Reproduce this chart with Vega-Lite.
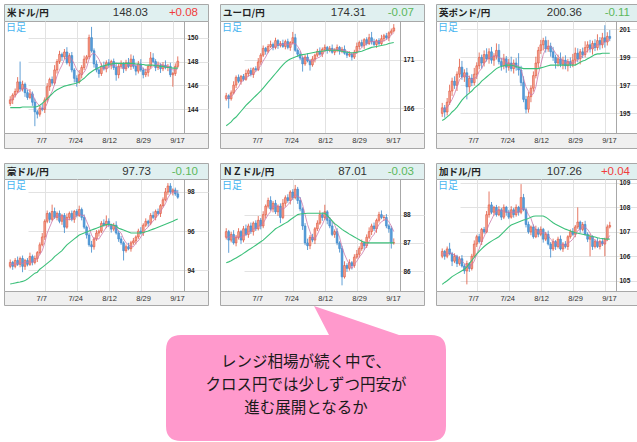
{
"$schema": "https://vega.github.io/schema/vega-lite/v6.json",
"padding": {"left": 3, "top": 3, "right": 0, "bottom": 0},
"background": "white",
"config": {
 "view": {"stroke": null},
 "axis": {"title": null, "labelFont": "Liberation Sans", "labelFontSize": 7, "labelColor": "#333333", "ticks": false, "domain": false, "gridColor": "#e2e2e2", "gridWidth": 1, "labelOverlap": false},
 "axisY": {"minExtent": 0, "labelPadding": 3, "labelFontWeight": "bold", "labelFontSize": 6.5, "labelColor": "#222222", "domainColor": "#a8a8a8", "domainWidth": 1, "labelOverlap": false, "labelFlush": false}
},
"datasets": {
"ticks": [{"i":14,"d":"7/7"},{"i":27,"d":"7/24"},{"i":40,"d":"8/12"},{"i":53,"d":"8/29"},{"i":66,"d":"9/17"}],
"usd": [
{"i":0,"o":144.5,"h":145.1,"l":144.3,"c":144.8,"m":144.15,"f":144.7},
{"i":1,"o":144.8,"h":145.35,"l":144.45,"c":145.2,"m":144.15,"f":144.9},
{"i":2,"o":145.2,"h":145.75,"l":145.0,"c":145.5,"m":144.15,"f":145.1},
{"i":3,"o":145.5,"h":146.7,"l":145.35,"c":146.3,"m":144.15,"f":145.4},
{"i":4,"o":146.3,"h":148.0,"l":145.5,"c":145.7,"m":144.15,"f":145.5},
{"i":5,"o":145.7,"h":146.4,"l":145.5,"c":146.1,"m":144.2,"f":145.76},
{"i":6,"o":146.1,"h":146.25,"l":145.05,"c":145.4,"m":144.2,"f":145.8},
{"i":7,"o":145.4,"h":145.65,"l":144.8,"c":145.0,"m":144.2,"f":145.7},
{"i":8,"o":145.0,"h":145.7,"l":144.85,"c":145.3,"m":144.2,"f":145.5},
{"i":9,"o":145.3,"h":145.5,"l":144.3,"c":144.6,"m":144.2,"f":145.3},
{"i":10,"o":144.6,"h":144.9,"l":142.6,"c":143.8,"m":144.2,"f":144.8},
{"i":11,"o":143.8,"h":143.95,"l":143.25,"c":143.6,"m":144.25,"f":144.5},
{"i":12,"o":143.6,"h":144.35,"l":143.4,"c":144.1,"m":144.35,"f":144.3},
{"i":13,"o":144.1,"h":144.5,"l":143.85,"c":144.0,"m":144.5,"f":144.0},
{"i":14,"o":144.0,"h":145.0,"l":143.7,"c":144.8,"m":144.7,"f":144.1},
{"i":15,"o":144.8,"h":146.2,"l":144.6,"c":145.9,"m":144.9,"f":144.5},
{"i":16,"o":145.9,"h":146.65,"l":145.55,"c":146.5,"m":145.1,"f":145.1},
{"i":17,"o":146.5,"h":146.75,"l":146.0,"c":146.2,"m":145.3,"f":145.5},
{"i":18,"o":146.2,"h":147.7,"l":146.05,"c":147.3,"m":145.5,"f":146.1},
{"i":19,"o":147.3,"h":148.2,"l":147.0,"c":148.0,"m":145.65,"f":146.8},
{"i":20,"o":148.0,"h":148.9,"l":147.8,"c":148.6,"m":145.75,"f":147.3},
{"i":21,"o":148.6,"h":148.75,"l":148.05,"c":148.4,"m":145.85,"f":147.7},
{"i":22,"o":148.4,"h":149.05,"l":148.2,"c":148.8,"m":145.95,"f":148.2},
{"i":23,"o":148.8,"h":149.2,"l":147.75,"c":147.9,"m":146.0,"f":148.3},
{"i":24,"o":147.9,"h":148.7,"l":147.6,"c":148.5,"m":146.05,"f":148.4},
{"i":25,"o":148.5,"h":148.8,"l":147.1,"c":147.3,"m":146.1,"f":148.2},
{"i":26,"o":147.3,"h":147.45,"l":146.25,"c":146.6,"m":146.15,"f":147.8},
{"i":27,"o":146.6,"h":146.85,"l":145.9,"c":146.3,"m":146.2,"f":147.3},
{"i":28,"o":146.3,"h":147.3,"l":146.15,"c":146.9,"m":146.3,"f":147.1},
{"i":29,"o":146.9,"h":147.7,"l":146.6,"c":147.5,"m":146.45,"f":146.9},
{"i":30,"o":147.5,"h":148.5,"l":147.3,"c":148.2,"m":146.6,"f":147.1},
{"i":31,"o":148.2,"h":148.55,"l":147.85,"c":148.4,"m":146.8,"f":147.5},
{"i":32,"o":148.4,"h":150.25,"l":148.2,"c":150.0,"m":147.0,"f":148.2},
{"i":33,"o":150.0,"h":150.9,"l":148.75,"c":148.9,"m":147.15,"f":148.6},
{"i":34,"o":148.9,"h":149.1,"l":147.5,"c":147.8,"m":147.3,"f":148.7},
{"i":35,"o":147.8,"h":148.1,"l":147.1,"c":147.3,"m":147.4,"f":148.5},
{"i":36,"o":147.3,"h":147.45,"l":146.65,"c":147.0,"m":147.5,"f":148.2},
{"i":37,"o":147.0,"h":147.85,"l":146.8,"c":147.6,"m":147.6,"f":147.7},
{"i":38,"o":147.6,"h":148.0,"l":147.25,"c":147.4,"m":147.65,"f":147.4},
{"i":39,"o":147.4,"h":148.1,"l":147.1,"c":147.9,"m":147.7,"f":147.4},
{"i":40,"o":147.9,"h":148.2,"l":147.5,"c":147.7,"m":147.75,"f":147.5},
{"i":41,"o":147.7,"h":148.15,"l":147.35,"c":148.0,"m":147.8,"f":147.7},
{"i":42,"o":148.0,"h":148.25,"l":147.3,"c":147.5,"m":147.85,"f":147.7},
{"i":43,"o":147.5,"h":147.9,"l":146.4,"c":146.9,"m":147.85,"f":147.6},
{"i":44,"o":146.9,"h":147.8,"l":146.6,"c":147.6,"m":147.85,"f":147.5},
{"i":45,"o":147.6,"h":148.1,"l":147.4,"c":147.8,"m":147.85,"f":147.6},
{"i":46,"o":147.8,"h":147.95,"l":147.05,"c":147.4,"m":147.85,"f":147.4},
{"i":47,"o":147.4,"h":148.15,"l":147.2,"c":147.9,"m":147.85,"f":147.5},
{"i":48,"o":147.9,"h":148.3,"l":147.45,"c":147.6,"m":147.85,"f":147.7},
{"i":49,"o":147.6,"h":148.6,"l":147.3,"c":148.2,"m":147.85,"f":147.8},
{"i":50,"o":148.2,"h":148.5,"l":147.4,"c":147.6,"m":147.85,"f":147.7},
{"i":51,"o":147.6,"h":147.75,"l":146.85,"c":147.2,"m":147.8,"f":147.7},
{"i":52,"o":147.2,"h":148.05,"l":147.0,"c":147.8,"m":147.8,"f":147.7},
{"i":53,"o":147.8,"h":148.2,"l":147.15,"c":147.3,"m":147.75,"f":147.6},
{"i":54,"o":147.3,"h":147.5,"l":146.6,"c":146.9,"m":147.75,"f":147.4},
{"i":55,"o":146.9,"h":147.4,"l":146.7,"c":147.1,"m":147.7,"f":147.3},
{"i":56,"o":147.1,"h":147.75,"l":146.75,"c":147.6,"m":147.7,"f":147.3},
{"i":57,"o":147.6,"h":148.8,"l":147.4,"c":148.3,"m":147.7,"f":147.4},
{"i":58,"o":148.3,"h":148.7,"l":147.85,"c":148.0,"m":147.7,"f":147.6},
{"i":59,"o":148.0,"h":148.2,"l":147.2,"c":147.5,"m":147.65,"f":147.7},
{"i":60,"o":147.5,"h":148.0,"l":147.3,"c":147.7,"m":147.65,"f":147.8},
{"i":61,"o":147.7,"h":147.85,"l":147.05,"c":147.4,"m":147.6,"f":147.8},
{"i":62,"o":147.4,"h":147.95,"l":147.2,"c":147.7,"m":147.6,"f":147.7},
{"i":63,"o":147.7,"h":148.1,"l":147.35,"c":147.5,"m":147.55,"f":147.6},
{"i":64,"o":147.5,"h":147.8,"l":147.2,"c":147.6,"m":147.5,"f":147.6},
{"i":65,"o":147.6,"h":147.9,"l":146.7,"c":146.9,"m":147.5,"f":147.4},
{"i":66,"o":146.9,"h":147.15,"l":145.9,"c":147.0,"m":147.45,"f":147.3},
{"i":67,"o":147.0,"h":147.85,"l":146.8,"c":147.6,"m":147.45,"f":147.3},
{"i":68,"o":147.6,"h":148.43,"l":147.45,"c":148.03,"m":147.45,"f":147.4}
],
"eur": [
{"i":0,"o":167.0,"h":167.6,"l":166.8,"c":167.3,"m":164.2,"f":167.0},
{"i":1,"o":167.3,"h":167.45,"l":166.0,"c":167.0,"m":164.4,"f":167.1},
{"i":2,"o":167.0,"h":167.85,"l":166.8,"c":167.6,"m":164.6,"f":167.2},
{"i":3,"o":167.6,"h":168.8,"l":167.45,"c":168.4,"m":164.9,"f":167.5},
{"i":4,"o":168.4,"h":169.4,"l":168.1,"c":169.2,"m":165.1,"f":167.9},
{"i":5,"o":169.2,"h":169.5,"l":168.6,"c":168.8,"m":165.4,"f":168.2},
{"i":6,"o":168.8,"h":169.45,"l":168.45,"c":169.3,"m":165.7,"f":168.7},
{"i":7,"o":169.3,"h":169.55,"l":168.8,"c":169.0,"m":166.0,"f":168.9},
{"i":8,"o":169.0,"h":170.0,"l":168.85,"c":169.6,"m":166.3,"f":169.2},
{"i":9,"o":169.6,"h":170.1,"l":169.3,"c":169.9,"m":166.55,"f":169.3},
{"i":10,"o":169.9,"h":170.2,"l":169.3,"c":169.5,"m":166.8,"f":169.5},
{"i":11,"o":169.5,"h":170.25,"l":169.15,"c":170.1,"m":167.05,"f":169.6},
{"i":12,"o":170.1,"h":170.35,"l":169.8,"c":170.0,"m":167.3,"f":169.8},
{"i":13,"o":170.0,"h":171.2,"l":169.85,"c":170.8,"m":167.55,"f":170.1},
{"i":14,"o":170.8,"h":171.7,"l":170.5,"c":171.5,"m":167.8,"f":170.4},
{"i":15,"o":171.5,"h":172.5,"l":171.3,"c":172.2,"m":168.1,"f":170.9},
{"i":16,"o":172.2,"h":172.35,"l":171.55,"c":171.9,"m":168.4,"f":171.3},
{"i":17,"o":171.9,"h":172.65,"l":171.7,"c":172.4,"m":168.7,"f":171.8},
{"i":18,"o":172.4,"h":173.0,"l":172.25,"c":172.6,"m":169.0,"f":172.1},
{"i":19,"o":172.6,"h":172.8,"l":172.0,"c":172.3,"m":169.3,"f":172.3},
{"i":20,"o":172.3,"h":173.3,"l":172.1,"c":173.0,"m":169.6,"f":172.4},
{"i":21,"o":173.0,"h":173.15,"l":172.15,"c":172.5,"m":169.9,"f":172.6},
{"i":22,"o":172.5,"h":172.95,"l":172.3,"c":172.7,"m":170.2,"f":172.6},
{"i":23,"o":172.7,"h":173.1,"l":172.25,"c":172.4,"m":170.5,"f":172.6},
{"i":24,"o":172.4,"h":173.1,"l":172.1,"c":172.9,"m":170.75,"f":172.7},
{"i":25,"o":172.9,"h":173.2,"l":172.1,"c":172.3,"m":170.95,"f":172.6},
{"i":26,"o":172.3,"h":172.95,"l":171.95,"c":172.8,"m":171.1,"f":172.6},
{"i":27,"o":172.8,"h":173.9,"l":172.6,"c":173.3,"m":171.2,"f":172.7},
{"i":28,"o":173.3,"h":173.7,"l":171.85,"c":172.0,"m":171.3,"f":172.7},
{"i":29,"o":172.0,"h":172.2,"l":171.3,"c":171.6,"m":171.4,"f":172.4},
{"i":30,"o":171.6,"h":171.9,"l":171.0,"c":171.2,"m":171.5,"f":172.0},
{"i":31,"o":171.2,"h":171.35,"l":169.8,"c":170.6,"m":171.55,"f":171.3},
{"i":32,"o":170.6,"h":171.55,"l":170.4,"c":171.3,"m":171.6,"f":171.1},
{"i":33,"o":171.3,"h":171.7,"l":170.75,"c":170.9,"m":171.65,"f":171.1},
{"i":34,"o":170.9,"h":171.1,"l":169.9,"c":170.5,"m":171.7,"f":170.9},
{"i":35,"o":170.5,"h":171.4,"l":170.3,"c":171.1,"m":171.75,"f":170.9},
{"i":36,"o":171.1,"h":171.65,"l":170.75,"c":171.5,"m":171.8,"f":171.0},
{"i":37,"o":171.5,"h":172.15,"l":171.3,"c":171.9,"m":171.85,"f":171.2},
{"i":38,"o":171.9,"h":172.3,"l":171.45,"c":171.6,"m":171.9,"f":171.3},
{"i":39,"o":171.6,"h":172.3,"l":171.3,"c":172.1,"m":171.9,"f":171.6},
{"i":40,"o":172.1,"h":172.6,"l":171.9,"c":172.3,"m":171.95,"f":171.9},
{"i":41,"o":172.3,"h":172.45,"l":171.65,"c":172.0,"m":172.0,"f":172.0},
{"i":42,"o":172.0,"h":172.45,"l":171.8,"c":172.2,"m":172.0,"f":172.0},
{"i":43,"o":172.2,"h":172.6,"l":171.65,"c":171.8,"m":172.0,"f":172.1},
{"i":44,"o":171.8,"h":172.2,"l":171.5,"c":172.0,"m":172.0,"f":172.1},
{"i":45,"o":172.0,"h":172.6,"l":171.8,"c":172.3,"m":172.0,"f":172.1},
{"i":46,"o":172.3,"h":172.45,"l":171.55,"c":171.9,"m":171.95,"f":172.0},
{"i":47,"o":171.9,"h":172.35,"l":171.7,"c":172.1,"m":171.9,"f":172.0},
{"i":48,"o":172.1,"h":172.5,"l":171.55,"c":171.7,"m":171.85,"f":172.0},
{"i":49,"o":171.7,"h":171.9,"l":171.2,"c":171.5,"m":171.8,"f":171.9},
{"i":50,"o":171.5,"h":171.9,"l":171.3,"c":171.6,"m":171.75,"f":171.8},
{"i":51,"o":171.6,"h":171.75,"l":170.95,"c":171.3,"m":171.75,"f":171.6},
{"i":52,"o":171.3,"h":172.05,"l":171.1,"c":171.8,"m":171.75,"f":171.6},
{"i":53,"o":171.8,"h":172.8,"l":171.65,"c":172.4,"m":171.8,"f":171.7},
{"i":54,"o":172.4,"h":173.0,"l":172.1,"c":172.8,"m":171.85,"f":172.0},
{"i":55,"o":172.8,"h":173.1,"l":172.3,"c":172.5,"m":171.9,"f":172.3},
{"i":56,"o":172.5,"h":173.25,"l":172.15,"c":173.1,"m":172.0,"f":172.5},
{"i":57,"o":173.1,"h":173.35,"l":172.5,"c":172.7,"m":172.1,"f":172.7},
{"i":58,"o":172.7,"h":173.7,"l":172.55,"c":173.3,"m":172.2,"f":172.9},
{"i":59,"o":173.3,"h":173.9,"l":172.6,"c":172.9,"m":172.3,"f":172.9},
{"i":60,"o":172.9,"h":173.2,"l":172.4,"c":172.6,"m":172.35,"f":172.9},
{"i":61,"o":172.6,"h":173.15,"l":172.25,"c":173.0,"m":172.4,"f":172.9},
{"i":62,"o":173.0,"h":173.25,"l":172.5,"c":172.7,"m":172.45,"f":172.9},
{"i":63,"o":172.7,"h":173.6,"l":172.55,"c":173.2,"m":172.5,"f":172.9},
{"i":64,"o":173.2,"h":173.7,"l":172.9,"c":173.5,"m":172.55,"f":173.0},
{"i":65,"o":173.5,"h":173.8,"l":173.1,"c":173.3,"m":172.6,"f":173.1},
{"i":66,"o":173.3,"h":173.95,"l":172.95,"c":173.8,"m":172.7,"f":173.3},
{"i":67,"o":173.8,"h":174.25,"l":173.6,"c":174.0,"m":172.75,"f":173.6},
{"i":68,"o":174.0,"h":174.71,"l":173.85,"c":174.31,"m":172.8,"f":173.8}
],
"gbp": [
{"i":0,"o":195.0,"h":195.75,"l":194.75,"c":195.4,"m":194.5,"f":195.3},
{"i":1,"o":195.4,"h":195.6,"l":194.7,"c":195.1,"m":194.6,"f":195.3},
{"i":2,"o":195.1,"h":196.1,"l":194.85,"c":195.8,"m":194.75,"f":195.4},
{"i":3,"o":195.8,"h":197.05,"l":195.6,"c":196.6,"m":194.9,"f":195.7},
{"i":4,"o":196.6,"h":197.55,"l":196.25,"c":197.3,"m":195.1,"f":196.0},
{"i":5,"o":197.3,"h":197.65,"l":196.75,"c":197.0,"m":195.25,"f":196.4},
{"i":6,"o":197.0,"h":198.0,"l":196.6,"c":197.8,"m":195.45,"f":196.9},
{"i":7,"o":197.8,"h":198.9,"l":197.55,"c":198.3,"m":195.7,"f":197.4},
{"i":8,"o":198.3,"h":198.75,"l":197.4,"c":197.6,"m":195.95,"f":197.6},
{"i":9,"o":197.6,"h":198.15,"l":197.25,"c":197.9,"m":196.15,"f":197.7},
{"i":10,"o":197.9,"h":198.25,"l":196.0,"c":196.9,"m":196.3,"f":197.7},
{"i":11,"o":196.9,"h":197.7,"l":196.5,"c":197.5,"m":196.45,"f":197.6},
{"i":12,"o":197.5,"h":197.8,"l":196.95,"c":197.2,"m":196.6,"f":197.4},
{"i":13,"o":197.2,"h":198.25,"l":197.0,"c":197.8,"m":196.8,"f":197.5},
{"i":14,"o":197.8,"h":198.65,"l":197.45,"c":198.4,"m":196.95,"f":197.6},
{"i":15,"o":198.4,"h":199.35,"l":198.15,"c":199.0,"m":197.1,"f":198.0},
{"i":16,"o":199.0,"h":199.2,"l":198.2,"c":198.6,"m":197.3,"f":198.2},
{"i":17,"o":198.6,"h":199.5,"l":198.35,"c":199.2,"m":197.45,"f":198.6},
{"i":18,"o":199.2,"h":199.65,"l":198.7,"c":198.9,"m":197.6,"f":198.8},
{"i":19,"o":198.9,"h":199.65,"l":198.55,"c":199.4,"m":197.75,"f":199.0},
{"i":20,"o":199.4,"h":199.75,"l":198.55,"c":198.8,"m":197.9,"f":199.0},
{"i":21,"o":198.8,"h":199.3,"l":198.4,"c":199.1,"m":198.05,"f":199.1},
{"i":22,"o":199.1,"h":200.0,"l":198.85,"c":199.5,"m":198.2,"f":199.1},
{"i":23,"o":199.5,"h":199.95,"l":198.5,"c":198.7,"m":198.3,"f":199.0},
{"i":24,"o":198.7,"h":198.95,"l":198.05,"c":198.4,"m":198.35,"f":198.9},
{"i":25,"o":198.4,"h":199.25,"l":198.15,"c":198.9,"m":198.4,"f":198.9},
{"i":26,"o":198.9,"h":199.1,"l":197.9,"c":198.3,"m":198.45,"f":198.6},
{"i":27,"o":198.3,"h":198.9,"l":198.05,"c":198.6,"m":198.45,"f":198.6},
{"i":28,"o":198.6,"h":199.05,"l":198.0,"c":198.2,"m":198.45,"f":198.5},
{"i":29,"o":198.2,"h":198.85,"l":197.85,"c":198.6,"m":198.4,"f":198.5},
{"i":30,"o":198.6,"h":198.95,"l":198.05,"c":198.3,"m":198.35,"f":198.4},
{"i":31,"o":198.3,"h":199.3,"l":197.7,"c":198.1,"m":198.3,"f":198.4},
{"i":32,"o":198.1,"h":198.4,"l":196.95,"c":197.2,"m":198.25,"f":198.1},
{"i":33,"o":197.2,"h":197.65,"l":195.8,"c":196.0,"m":198.2,"f":197.5},
{"i":34,"o":196.0,"h":196.25,"l":195.0,"c":195.3,"m":198.2,"f":196.9},
{"i":35,"o":195.3,"h":196.55,"l":195.05,"c":196.2,"m":198.2,"f":196.6},
{"i":36,"o":196.2,"h":197.0,"l":195.8,"c":196.8,"m":198.2,"f":196.3},
{"i":37,"o":196.8,"h":198.0,"l":196.55,"c":197.7,"m":198.2,"f":196.4},
{"i":38,"o":197.7,"h":199.05,"l":197.5,"c":198.6,"m":198.2,"f":196.9},
{"i":39,"o":198.6,"h":199.75,"l":198.25,"c":199.5,"m":198.2,"f":197.8},
{"i":40,"o":199.5,"h":200.25,"l":199.25,"c":199.9,"m":198.25,"f":198.5},
{"i":41,"o":199.9,"h":200.4,"l":199.5,"c":200.2,"m":198.3,"f":199.2},
{"i":42,"o":200.2,"h":200.5,"l":199.35,"c":199.6,"m":198.35,"f":199.6},
{"i":43,"o":199.6,"h":200.25,"l":199.4,"c":199.8,"m":198.4,"f":199.8},
{"i":44,"o":199.8,"h":200.05,"l":199.05,"c":199.4,"m":198.45,"f":199.8},
{"i":45,"o":199.4,"h":199.75,"l":198.75,"c":199.0,"m":198.45,"f":199.6},
{"i":46,"o":199.0,"h":199.2,"l":198.2,"c":198.6,"m":198.45,"f":199.3},
{"i":47,"o":198.6,"h":199.2,"l":198.35,"c":198.9,"m":198.45,"f":199.1},
{"i":48,"o":198.9,"h":199.35,"l":198.3,"c":198.5,"m":198.45,"f":198.9},
{"i":49,"o":198.5,"h":199.05,"l":198.15,"c":198.8,"m":198.45,"f":198.8},
{"i":50,"o":198.8,"h":199.15,"l":198.15,"c":198.4,"m":198.45,"f":198.6},
{"i":51,"o":198.4,"h":198.9,"l":198.0,"c":198.7,"m":198.45,"f":198.7},
{"i":52,"o":198.7,"h":199.0,"l":198.25,"c":198.5,"m":198.45,"f":198.6},
{"i":53,"o":198.5,"h":199.25,"l":198.3,"c":198.8,"m":198.45,"f":198.6},
{"i":54,"o":198.8,"h":199.7,"l":198.45,"c":199.3,"m":198.45,"f":198.7},
{"i":55,"o":199.3,"h":199.65,"l":198.65,"c":198.9,"m":198.55,"f":198.8},
{"i":56,"o":198.9,"h":199.6,"l":198.5,"c":199.4,"m":198.65,"f":199.0},
{"i":57,"o":199.4,"h":199.7,"l":198.95,"c":199.2,"m":198.75,"f":199.1},
{"i":58,"o":199.2,"h":200.15,"l":199.0,"c":199.7,"m":198.8,"f":199.3},
{"i":59,"o":199.7,"h":200.15,"l":199.35,"c":199.9,"m":198.9,"f":199.5},
{"i":60,"o":199.9,"h":200.25,"l":199.35,"c":199.6,"m":199.0,"f":199.6},
{"i":61,"o":199.6,"h":200.2,"l":199.2,"c":200.0,"m":199.1,"f":199.7},
{"i":62,"o":200.0,"h":200.3,"l":199.45,"c":199.7,"m":199.2,"f":199.8},
{"i":63,"o":199.7,"h":200.65,"l":199.5,"c":200.2,"m":199.25,"f":199.9},
{"i":64,"o":200.2,"h":200.45,"l":199.55,"c":199.9,"m":199.25,"f":199.9},
{"i":65,"o":199.9,"h":200.75,"l":199.65,"c":200.4,"m":199.3,"f":200.0},
{"i":66,"o":200.4,"h":201.3,"l":199.7,"c":200.1,"m":199.3,"f":200.1},
{"i":67,"o":200.1,"h":200.8,"l":199.85,"c":200.5,"m":199.3,"f":200.2},
{"i":68,"o":200.5,"h":200.95,"l":200.16,"c":200.36,"m":199.3,"f":200.3}
],
"aud": [
{"i":0,"o":94.2,"h":94.55,"l":94.1,"c":94.4,"m":93.3,"f":94.3},
{"i":1,"o":94.4,"h":94.48,"l":94.02,"c":94.2,"m":93.32,"f":94.3},
{"i":2,"o":94.2,"h":94.62,"l":94.1,"c":94.5,"m":93.35,"f":94.3},
{"i":3,"o":94.5,"h":94.7,"l":94.22,"c":94.3,"m":93.38,"f":94.35},
{"i":4,"o":94.3,"h":94.7,"l":94.15,"c":94.6,"m":93.4,"f":94.4},
{"i":5,"o":94.6,"h":94.75,"l":93.9,"c":94.2,"m":93.43,"f":94.35},
{"i":6,"o":94.2,"h":94.58,"l":94.02,"c":94.5,"m":93.47,"f":94.4},
{"i":7,"o":94.5,"h":94.62,"l":94.2,"c":94.3,"m":93.55,"f":94.4},
{"i":8,"o":94.3,"h":94.9,"l":94.22,"c":94.7,"m":93.65,"f":94.45},
{"i":9,"o":94.7,"h":94.8,"l":94.25,"c":94.4,"m":93.75,"f":94.4},
{"i":10,"o":94.4,"h":94.75,"l":94.3,"c":94.6,"m":93.85,"f":94.5},
{"i":11,"o":94.6,"h":94.98,"l":94.42,"c":94.9,"m":93.9,"f":94.6},
{"i":12,"o":94.9,"h":95.42,"l":94.8,"c":95.3,"m":94.05,"f":94.8},
{"i":13,"o":95.3,"h":95.9,"l":95.22,"c":95.7,"m":94.15,"f":95.0},
{"i":14,"o":95.7,"h":96.6,"l":95.55,"c":96.5,"m":94.25,"f":95.4},
{"i":15,"o":96.5,"h":97.05,"l":96.4,"c":96.9,"m":94.35,"f":95.9},
{"i":16,"o":96.9,"h":96.98,"l":96.42,"c":96.6,"m":94.45,"f":96.2},
{"i":17,"o":96.6,"h":97.35,"l":96.5,"c":97.0,"m":94.55,"f":96.5},
{"i":18,"o":97.0,"h":97.2,"l":96.62,"c":96.7,"m":94.7,"f":96.7},
{"i":19,"o":96.7,"h":97.0,"l":96.55,"c":96.9,"m":94.8,"f":96.8},
{"i":20,"o":96.9,"h":97.05,"l":96.4,"c":96.5,"m":94.9,"f":96.7},
{"i":21,"o":96.5,"h":96.88,"l":96.32,"c":96.8,"m":95.0,"f":96.8},
{"i":22,"o":96.8,"h":96.92,"l":95.9,"c":96.2,"m":95.15,"f":96.6},
{"i":23,"o":96.2,"h":96.9,"l":96.12,"c":96.7,"m":95.3,"f":96.6},
{"i":24,"o":96.7,"h":97.0,"l":96.55,"c":96.9,"m":95.4,"f":96.6},
{"i":25,"o":96.9,"h":97.05,"l":96.5,"c":96.6,"m":95.5,"f":96.6},
{"i":26,"o":96.6,"h":97.08,"l":96.42,"c":97.0,"m":95.6,"f":96.7},
{"i":27,"o":97.0,"h":97.12,"l":96.7,"c":96.8,"m":95.7,"f":96.8},
{"i":28,"o":96.8,"h":97.3,"l":96.72,"c":97.1,"m":95.8,"f":96.9},
{"i":29,"o":97.1,"h":97.2,"l":96.55,"c":96.7,"m":95.85,"f":96.8},
{"i":30,"o":96.7,"h":96.85,"l":96.1,"c":96.2,"m":95.9,"f":96.8},
{"i":31,"o":96.2,"h":96.28,"l":95.62,"c":95.8,"m":95.95,"f":96.5},
{"i":32,"o":95.8,"h":95.92,"l":95.2,"c":95.3,"m":96.0,"f":96.2},
{"i":33,"o":95.3,"h":95.5,"l":94.9,"c":95.2,"m":96.05,"f":95.8},
{"i":34,"o":95.2,"h":95.7,"l":95.05,"c":95.6,"m":96.1,"f":95.6},
{"i":35,"o":95.6,"h":96.05,"l":95.5,"c":95.9,"m":96.15,"f":95.6},
{"i":36,"o":95.9,"h":96.08,"l":95.72,"c":96.0,"m":96.2,"f":95.6},
{"i":37,"o":96.0,"h":96.52,"l":95.9,"c":96.4,"m":96.25,"f":95.8},
{"i":38,"o":96.4,"h":96.6,"l":96.22,"c":96.3,"m":96.3,"f":96.0},
{"i":39,"o":96.3,"h":96.8,"l":96.15,"c":96.5,"m":96.33,"f":96.2},
{"i":40,"o":96.5,"h":96.65,"l":96.2,"c":96.3,"m":96.35,"f":96.3},
{"i":41,"o":96.3,"h":96.38,"l":95.92,"c":96.1,"m":96.33,"f":96.3},
{"i":42,"o":96.1,"h":96.42,"l":96.0,"c":96.3,"m":96.3,"f":96.3},
{"i":43,"o":96.3,"h":96.5,"l":95.82,"c":95.9,"m":96.25,"f":96.2},
{"i":44,"o":95.9,"h":96.0,"l":95.45,"c":95.6,"m":96.15,"f":96.0},
{"i":45,"o":95.6,"h":95.75,"l":95.3,"c":95.4,"m":96.1,"f":95.9},
{"i":46,"o":95.4,"h":95.48,"l":94.5,"c":95.0,"m":96.05,"f":95.6},
{"i":47,"o":95.0,"h":95.32,"l":94.9,"c":95.2,"m":96.0,"f":95.4},
{"i":48,"o":95.2,"h":95.4,"l":95.02,"c":95.1,"m":95.95,"f":95.3},
{"i":49,"o":95.1,"h":95.5,"l":94.95,"c":95.4,"m":95.9,"f":95.2},
{"i":50,"o":95.4,"h":95.65,"l":95.3,"c":95.5,"m":95.9,"f":95.2},
{"i":51,"o":95.5,"h":95.78,"l":95.32,"c":95.7,"m":95.9,"f":95.4},
{"i":52,"o":95.7,"h":96.12,"l":95.6,"c":96.0,"m":95.9,"f":95.5},
{"i":53,"o":96.0,"h":96.2,"l":95.82,"c":95.9,"m":95.9,"f":95.7},
{"i":54,"o":95.9,"h":96.4,"l":95.75,"c":96.3,"m":95.93,"f":95.9},
{"i":55,"o":96.3,"h":96.65,"l":96.2,"c":96.5,"m":95.97,"f":96.1},
{"i":56,"o":96.5,"h":96.58,"l":96.22,"c":96.4,"m":96.0,"f":96.2},
{"i":57,"o":96.4,"h":96.92,"l":96.3,"c":96.8,"m":96.05,"f":96.4},
{"i":58,"o":96.8,"h":97.0,"l":96.62,"c":96.7,"m":96.1,"f":96.5},
{"i":59,"o":96.7,"h":97.1,"l":96.55,"c":97.0,"m":96.15,"f":96.7},
{"i":60,"o":97.0,"h":97.15,"l":96.8,"c":96.9,"m":96.2,"f":96.8},
{"i":61,"o":96.9,"h":97.38,"l":96.72,"c":97.3,"m":96.25,"f":97.0},
{"i":62,"o":97.3,"h":97.72,"l":97.2,"c":97.6,"m":96.3,"f":97.2},
{"i":63,"o":97.6,"h":98.2,"l":97.52,"c":98.0,"m":96.35,"f":97.4},
{"i":64,"o":98.0,"h":98.45,"l":97.85,"c":98.3,"m":96.4,"f":97.7},
{"i":65,"o":98.3,"h":98.45,"l":97.9,"c":98.0,"m":96.45,"f":97.9},
{"i":66,"o":98.0,"h":98.18,"l":97.82,"c":98.1,"m":96.5,"f":98.0},
{"i":67,"o":98.1,"h":98.22,"l":97.8,"c":97.9,"m":96.57,"f":98.0},
{"i":68,"o":97.9,"h":98.1,"l":97.65,"c":97.73,"m":96.62,"f":98.0}
],
"nzd": [
{"i":0,"o":87.2,"h":87.52,"l":87.12,"c":87.4,"m":86.3,"f":87.2},
{"i":1,"o":87.4,"h":87.46,"l":86.65,"c":87.1,"m":86.33,"f":87.2},
{"i":2,"o":87.1,"h":87.4,"l":87.02,"c":87.3,"m":86.37,"f":87.25},
{"i":3,"o":87.3,"h":87.45,"l":86.94,"c":87.0,"m":86.42,"f":87.2},
{"i":4,"o":87.0,"h":87.28,"l":86.88,"c":87.2,"m":86.47,"f":87.2},
{"i":5,"o":87.2,"h":87.52,"l":87.12,"c":87.4,"m":86.52,"f":87.2},
{"i":6,"o":87.4,"h":87.46,"l":86.96,"c":87.1,"m":86.57,"f":87.2},
{"i":7,"o":87.1,"h":87.6,"l":87.02,"c":87.5,"m":86.63,"f":87.25},
{"i":8,"o":87.5,"h":87.65,"l":87.24,"c":87.3,"m":86.69,"f":87.3},
{"i":9,"o":87.3,"h":87.68,"l":87.18,"c":87.6,"m":86.75,"f":87.4},
{"i":10,"o":87.6,"h":87.72,"l":87.32,"c":87.4,"m":86.8,"f":87.4},
{"i":11,"o":87.4,"h":87.76,"l":87.26,"c":87.7,"m":86.86,"f":87.5},
{"i":12,"o":87.7,"h":87.8,"l":87.42,"c":87.5,"m":86.92,"f":87.5},
{"i":13,"o":87.5,"h":87.95,"l":87.44,"c":87.8,"m":86.98,"f":87.6},
{"i":14,"o":87.8,"h":87.88,"l":87.48,"c":87.6,"m":87.04,"f":87.6},
{"i":15,"o":87.6,"h":88.12,"l":87.52,"c":88.0,"m":87.1,"f":87.7},
{"i":16,"o":88.0,"h":88.36,"l":87.86,"c":88.3,"m":87.18,"f":87.85},
{"i":17,"o":88.3,"h":88.6,"l":88.22,"c":88.5,"m":87.26,"f":88.0},
{"i":18,"o":88.5,"h":88.65,"l":88.14,"c":88.2,"m":87.34,"f":88.1},
{"i":19,"o":88.2,"h":88.48,"l":88.08,"c":88.4,"m":87.42,"f":88.3},
{"i":20,"o":88.4,"h":88.52,"l":88.02,"c":88.1,"m":87.5,"f":88.3},
{"i":21,"o":88.1,"h":88.36,"l":87.96,"c":88.3,"m":87.55,"f":88.3},
{"i":22,"o":88.3,"h":88.4,"l":87.7,"c":87.9,"m":87.6,"f":88.2},
{"i":23,"o":87.9,"h":88.55,"l":87.84,"c":88.4,"m":87.65,"f":88.2},
{"i":24,"o":88.4,"h":88.68,"l":88.28,"c":88.6,"m":87.7,"f":88.25},
{"i":25,"o":88.6,"h":88.72,"l":88.42,"c":88.5,"m":87.75,"f":88.35},
{"i":26,"o":88.5,"h":88.86,"l":88.36,"c":88.8,"m":87.82,"f":88.45},
{"i":27,"o":88.8,"h":88.9,"l":88.52,"c":88.6,"m":87.88,"f":88.6},
{"i":28,"o":88.6,"h":89.05,"l":88.54,"c":88.9,"m":87.94,"f":88.7},
{"i":29,"o":88.9,"h":88.98,"l":88.38,"c":88.5,"m":88.0,"f":88.65},
{"i":30,"o":88.5,"h":88.62,"l":88.12,"c":88.2,"m":88.02,"f":88.6},
{"i":31,"o":88.2,"h":88.26,"l":87.46,"c":87.6,"m":88.03,"f":88.35},
{"i":32,"o":87.6,"h":87.7,"l":86.92,"c":87.0,"m":88.04,"f":88.0},
{"i":33,"o":87.0,"h":87.15,"l":86.75,"c":86.9,"m":88.05,"f":87.65},
{"i":34,"o":86.9,"h":87.28,"l":86.78,"c":87.2,"m":88.05,"f":87.4},
{"i":35,"o":87.2,"h":87.32,"l":87.02,"c":87.1,"m":88.05,"f":87.15},
{"i":36,"o":87.1,"h":87.56,"l":86.96,"c":87.5,"m":88.05,"f":87.15},
{"i":37,"o":87.5,"h":87.8,"l":87.42,"c":87.7,"m":88.05,"f":87.3},
{"i":38,"o":87.7,"h":88.15,"l":87.64,"c":88.0,"m":88.05,"f":87.5},
{"i":39,"o":88.0,"h":88.08,"l":87.78,"c":87.9,"m":88.05,"f":87.65},
{"i":40,"o":87.9,"h":88.35,"l":87.82,"c":88.1,"m":88.05,"f":87.85},
{"i":41,"o":88.1,"h":88.16,"l":87.66,"c":87.8,"m":87.97,"f":87.9},
{"i":42,"o":87.8,"h":87.9,"l":87.52,"c":87.6,"m":87.88,"f":87.9},
{"i":43,"o":87.6,"h":87.75,"l":87.24,"c":87.3,"m":87.78,"f":87.75},
{"i":44,"o":87.3,"h":87.48,"l":87.18,"c":87.4,"m":87.68,"f":87.65},
{"i":45,"o":87.4,"h":87.52,"l":86.92,"c":87.0,"m":87.62,"f":87.4},
{"i":46,"o":87.0,"h":87.06,"l":86.66,"c":86.8,"m":87.55,"f":87.2},
{"i":47,"o":86.8,"h":86.9,"l":85.5,"c":85.8,"m":87.48,"f":86.85},
{"i":48,"o":85.8,"h":86.35,"l":85.74,"c":86.2,"m":87.42,"f":86.6},
{"i":49,"o":86.2,"h":86.28,"l":85.98,"c":86.1,"m":87.37,"f":86.4},
{"i":50,"o":86.1,"h":86.42,"l":86.02,"c":86.3,"m":87.31,"f":86.25},
{"i":51,"o":86.3,"h":86.36,"l":86.06,"c":86.2,"m":87.26,"f":86.1},
{"i":52,"o":86.2,"h":86.6,"l":86.12,"c":86.5,"m":87.21,"f":86.25},
{"i":53,"o":86.5,"h":86.75,"l":86.44,"c":86.6,"m":87.16,"f":86.35},
{"i":54,"o":86.6,"h":86.88,"l":86.48,"c":86.8,"m":87.11,"f":86.5},
{"i":55,"o":86.8,"h":87.12,"l":86.72,"c":87.0,"m":87.06,"f":86.6},
{"i":56,"o":87.0,"h":87.06,"l":86.76,"c":86.9,"m":87.02,"f":86.75},
{"i":57,"o":86.9,"h":87.3,"l":86.82,"c":87.2,"m":87.0,"f":86.9},
{"i":58,"o":87.2,"h":87.55,"l":87.14,"c":87.4,"m":87.0,"f":87.05},
{"i":59,"o":87.4,"h":87.68,"l":87.28,"c":87.6,"m":87.0,"f":87.2},
{"i":60,"o":87.6,"h":87.72,"l":87.42,"c":87.5,"m":87.0,"f":87.3},
{"i":61,"o":87.5,"h":87.86,"l":87.36,"c":87.8,"m":87.0,"f":87.5},
{"i":62,"o":87.8,"h":88.1,"l":87.72,"c":88.0,"m":87.0,"f":87.65},
{"i":63,"o":88.0,"h":88.15,"l":87.84,"c":87.9,"m":87.0,"f":87.75},
{"i":64,"o":87.9,"h":87.98,"l":87.78,"c":87.9,"m":87.0,"f":87.8},
{"i":65,"o":87.9,"h":88.02,"l":87.52,"c":87.6,"m":87.0,"f":87.85},
{"i":66,"o":87.6,"h":87.66,"l":87.36,"c":87.5,"m":87.0,"f":87.75},
{"i":67,"o":87.5,"h":87.6,"l":86.8,"c":87.0,"m":87.0,"f":87.6},
{"i":68,"o":87.0,"h":87.16,"l":86.94,"c":87.01,"m":87.0,"f":87.4}
],
"cad": [
{"i":0,"o":106.0,"h":106.32,"l":105.92,"c":106.2,"m":104.85,"f":106.1},
{"i":1,"o":106.2,"h":106.26,"l":105.86,"c":106.0,"m":104.93,"f":106.1},
{"i":2,"o":106.0,"h":106.4,"l":105.92,"c":106.3,"m":105.0,"f":106.1},
{"i":3,"o":106.3,"h":106.55,"l":106.04,"c":106.1,"m":105.08,"f":106.15},
{"i":4,"o":106.1,"h":106.18,"l":105.6,"c":105.8,"m":105.17,"f":106.1},
{"i":5,"o":105.8,"h":106.12,"l":105.72,"c":106.0,"m":105.23,"f":106.05},
{"i":6,"o":106.0,"h":106.06,"l":105.56,"c":105.7,"m":105.29,"f":106.0},
{"i":7,"o":105.7,"h":106.0,"l":105.62,"c":105.9,"m":105.35,"f":105.9},
{"i":8,"o":105.9,"h":106.05,"l":105.54,"c":105.6,"m":105.41,"f":105.8},
{"i":9,"o":105.6,"h":105.68,"l":105.28,"c":105.4,"m":105.47,"f":105.7},
{"i":10,"o":105.4,"h":105.82,"l":104.85,"c":105.7,"m":105.57,"f":105.65},
{"i":11,"o":105.7,"h":105.76,"l":105.36,"c":105.5,"m":105.7,"f":105.6},
{"i":12,"o":105.5,"h":106.1,"l":105.42,"c":106.0,"m":105.83,"f":105.65},
{"i":13,"o":106.0,"h":106.65,"l":105.94,"c":106.5,"m":105.96,"f":105.8},
{"i":14,"o":106.5,"h":106.88,"l":106.38,"c":106.8,"m":106.09,"f":106.1},
{"i":15,"o":106.8,"h":106.92,"l":106.52,"c":106.6,"m":106.2,"f":106.3},
{"i":16,"o":106.6,"h":107.16,"l":106.46,"c":107.1,"m":106.3,"f":106.6},
{"i":17,"o":107.1,"h":107.2,"l":106.92,"c":107.0,"m":106.4,"f":106.8},
{"i":18,"o":107.0,"h":107.85,"l":106.94,"c":107.7,"m":106.48,"f":107.05},
{"i":19,"o":107.7,"h":108.65,"l":107.58,"c":108.1,"m":106.55,"f":107.3},
{"i":20,"o":108.1,"h":108.22,"l":107.72,"c":107.8,"m":106.62,"f":107.5},
{"i":21,"o":107.8,"h":108.06,"l":107.66,"c":108.0,"m":106.68,"f":107.7},
{"i":22,"o":108.0,"h":108.1,"l":107.62,"c":107.7,"m":106.74,"f":107.85},
{"i":23,"o":107.7,"h":108.05,"l":107.64,"c":107.9,"m":106.8,"f":107.9},
{"i":24,"o":107.9,"h":107.98,"l":107.48,"c":107.6,"m":106.9,"f":107.85},
{"i":25,"o":107.6,"h":108.12,"l":107.52,"c":108.0,"m":107.0,"f":107.85},
{"i":26,"o":108.0,"h":108.06,"l":107.66,"c":107.8,"m":107.1,"f":107.8},
{"i":27,"o":107.8,"h":107.9,"l":107.52,"c":107.6,"m":107.2,"f":107.8},
{"i":28,"o":107.6,"h":108.05,"l":107.54,"c":107.9,"m":107.28,"f":107.8},
{"i":29,"o":107.9,"h":107.98,"l":107.58,"c":107.7,"m":107.32,"f":107.8},
{"i":30,"o":107.7,"h":108.12,"l":107.62,"c":108.0,"m":107.36,"f":107.8},
{"i":31,"o":108.0,"h":108.06,"l":107.66,"c":107.8,"m":107.4,"f":107.8},
{"i":32,"o":107.8,"h":108.95,"l":107.72,"c":108.4,"m":107.44,"f":107.95},
{"i":33,"o":108.4,"h":108.55,"l":107.84,"c":107.9,"m":107.48,"f":107.95},
{"i":34,"o":107.9,"h":107.98,"l":107.18,"c":107.3,"m":107.5,"f":107.9},
{"i":35,"o":107.3,"h":107.42,"l":106.92,"c":107.0,"m":107.55,"f":107.7},
{"i":36,"o":107.0,"h":107.26,"l":106.86,"c":107.2,"m":107.6,"f":107.55},
{"i":37,"o":107.2,"h":107.3,"l":106.72,"c":106.8,"m":107.64,"f":107.25},
{"i":38,"o":106.8,"h":107.25,"l":106.74,"c":107.1,"m":107.65,"f":107.1},
{"i":39,"o":107.1,"h":107.18,"l":106.78,"c":106.9,"m":107.65,"f":107.0},
{"i":40,"o":106.9,"h":107.22,"l":106.82,"c":107.1,"m":107.65,"f":107.0},
{"i":41,"o":107.1,"h":107.16,"l":106.56,"c":106.7,"m":107.65,"f":106.95},
{"i":42,"o":106.7,"h":107.0,"l":106.62,"c":106.9,"m":107.6,"f":106.95},
{"i":43,"o":106.9,"h":107.05,"l":106.44,"c":106.5,"m":107.53,"f":106.85},
{"i":44,"o":106.5,"h":106.58,"l":105.95,"c":106.3,"m":107.45,"f":106.7},
{"i":45,"o":106.3,"h":106.72,"l":106.22,"c":106.6,"m":107.37,"f":106.6},
{"i":46,"o":106.6,"h":106.66,"l":106.26,"c":106.4,"m":107.31,"f":106.55},
{"i":47,"o":106.4,"h":106.8,"l":106.32,"c":106.7,"m":107.26,"f":106.5},
{"i":48,"o":106.7,"h":106.85,"l":106.24,"c":106.3,"m":107.21,"f":106.45},
{"i":49,"o":106.3,"h":106.58,"l":106.18,"c":106.5,"m":107.16,"f":106.5},
{"i":50,"o":106.5,"h":106.62,"l":106.32,"c":106.4,"m":107.11,"f":106.45},
{"i":51,"o":106.4,"h":106.86,"l":106.26,"c":106.8,"m":107.07,"f":106.55},
{"i":52,"o":106.8,"h":107.1,"l":106.72,"c":107.0,"m":107.03,"f":106.6},
{"i":53,"o":107.0,"h":107.15,"l":106.84,"c":106.9,"m":107.0,"f":106.7},
{"i":54,"o":106.9,"h":107.28,"l":106.78,"c":107.2,"m":106.96,"f":106.85},
{"i":55,"o":107.2,"h":108.0,"l":107.12,"c":107.4,"m":106.94,"f":107.05},
{"i":56,"o":107.4,"h":107.46,"l":106.96,"c":107.1,"m":106.92,"f":107.1},
{"i":57,"o":107.1,"h":107.4,"l":107.02,"c":107.3,"m":106.9,"f":107.2},
{"i":58,"o":107.3,"h":107.45,"l":106.84,"c":106.9,"m":106.88,"f":107.2},
{"i":59,"o":106.9,"h":106.98,"l":106.58,"c":106.7,"m":106.86,"f":107.1},
{"i":60,"o":106.7,"h":106.92,"l":106.0,"c":106.8,"m":106.83,"f":106.95},
{"i":61,"o":106.8,"h":106.86,"l":106.26,"c":106.4,"m":106.81,"f":106.75},
{"i":62,"o":106.4,"h":106.7,"l":106.32,"c":106.6,"m":106.79,"f":106.65},
{"i":63,"o":106.6,"h":106.75,"l":106.34,"c":106.4,"m":106.76,"f":106.6},
{"i":64,"o":106.4,"h":106.68,"l":106.28,"c":106.6,"m":106.74,"f":106.55},
{"i":65,"o":106.6,"h":106.72,"l":106.42,"c":106.5,"m":106.73,"f":106.5},
{"i":66,"o":106.5,"h":106.76,"l":106.0,"c":106.7,"m":106.71,"f":106.55},
{"i":67,"o":106.7,"h":107.3,"l":106.62,"c":107.2,"m":106.7,"f":106.7},
{"i":68,"o":107.2,"h":107.41,"l":107.14,"c":107.26,"m":106.7,"f":106.85}
]
},
"spacing": 0,
"resolve": {"scale": {"x": "independent", "y": "independent"}},
"vconcat": [
{
"spacing": 13,
"resolve": {"scale": {"x": "independent", "y": "independent"}},
"vconcat": [
{
"spacing": 10,
"resolve": {"scale": {"x": "independent", "y": "independent"}},
"hconcat": [
{"spacing": 0, "bounds": "flush", "resolve": {"scale": {"x": "independent", "y": "independent"}}, "vconcat": [
 {"width": 204, "height": 17, "view": {"fill": "#e0f0f0", "stroke": "#a8a8a8"}, "data": {"values": [{"name": "米ドル/円", "price": "148.03", "chg": "+0.08"}]},
  "layer": [
   {"mark": {"type": "text", "align": "left", "baseline": "middle", "font": "Noto Sans CJK JP", "fontWeight": "bold", "fontSize": 9.5, "color": "#222222"}, "encoding": {"text": {"field": "name"}, "x": {"value": 3}, "y": {"value": 9}}},
   {"mark": {"type": "text", "align": "right", "baseline": "middle", "font": "Liberation Sans", "fontSize": 11.5, "color": "#333333"}, "encoding": {"text": {"field": "price"}, "x": {"value": 144}, "y": {"value": 9}}},
   {"mark": {"type": "text", "align": "right", "baseline": "middle", "font": "Liberation Sans", "fontSize": 11.5, "color": "#f03c3c"}, "encoding": {"text": {"field": "chg"}, "x": {"value": 194}, "y": {"value": 9}}}
  ]},
 {"width": 204, "height": 112, "view": {"fill": "white", "stroke": "#a8a8a8"}, "data": {"name": "usd"},
  "encoding": {"x": {"field": "i", "type": "quantitative", "scale": {"domain": [-0.5, 68.5], "range": [0, 180], "nice": false, "zero": false}, "axis": {"values": [14, 27, 40, 53, 66], "tickCount": 20, "labels": false, "grid": true}}},
  "layer": [
   {"mark": {"type": "rule", "strokeWidth": 0.8}, "encoding": {"y": {"field": "l", "type": "quantitative", "scale": {"domain": [142.03, 151.39], "nice": false, "zero": false}, "axis": {"orient": "right", "offset": -24, "domain": true, "labelOverlap": false, "tickCount": 20, "format": "d", "values": [144, 146, 148, 150], "grid": true}}, "y2": {"field": "h"}, "color": {"condition": {"test": "datum.c >= datum.o", "value": "#e0553c"}, "value": "#3a88cc"}}},
   {"mark": {"type": "bar", "size": 1.8, "strokeWidth": 0.6}, "encoding": {"y": {"field": "o", "type": "quantitative"}, "y2": {"field": "c"}, "fill": {"condition": {"test": "datum.c >= datum.o", "value": "#f4a391"}, "value": "#5a9ed8"}, "stroke": {"condition": {"test": "datum.c >= datum.o", "value": "#e0553c"}, "value": "#3a88cc"}}},
   {"mark": {"type": "line", "color": "#cc77aa", "strokeWidth": 0.8}, "encoding": {"y": {"field": "f", "type": "quantitative"}}},
   {"mark": {"type": "line", "color": "#3cc07a", "strokeWidth": 1.1}, "encoding": {"y": {"field": "m", "type": "quantitative"}}},
   {"data": {"values": [{"t": "日足"}]}, "mark": {"type": "text", "align": "left", "baseline": "top", "font": "Noto Sans CJK JP", "fontSize": 10, "color": "#48b4f0"}, "encoding": {"x": {"value": 2}, "y": {"value": 2}, "text": {"field": "t"}}}
  ]},
 {"width": 204, "height": 15, "view": {"fill": "#f0f0f0", "stroke": "#a8a8a8"}, "data": {"name": "ticks"},
  "mark": {"type": "text", "baseline": "middle", "font": "Liberation Sans", "fontSize": 7.5, "color": "#333333"},
  "encoding": {"x": {"field": "i", "type": "quantitative", "scale": {"domain": [-0.5, 77.7], "nice": false, "zero": false}, "axis": null}, "y": {"value": 8}, "text": {"field": "d"}}}
]},
{"spacing": 0, "bounds": "flush", "resolve": {"scale": {"x": "independent", "y": "independent"}}, "vconcat": [
 {"width": 204, "height": 17, "view": {"fill": "#e0f0f0", "stroke": "#a8a8a8"}, "data": {"values": [{"name": "ユーロ/円", "price": "174.31", "chg": "-0.07"}]},
  "layer": [
   {"mark": {"type": "text", "align": "left", "baseline": "middle", "font": "Noto Sans CJK JP", "fontWeight": "bold", "fontSize": 9.5, "color": "#222222"}, "encoding": {"text": {"field": "name"}, "x": {"value": 3}, "y": {"value": 9}}},
   {"mark": {"type": "text", "align": "right", "baseline": "middle", "font": "Liberation Sans", "fontSize": 11.5, "color": "#333333"}, "encoding": {"text": {"field": "price"}, "x": {"value": 146}, "y": {"value": 9}}},
   {"mark": {"type": "text", "align": "right", "baseline": "middle", "font": "Liberation Sans", "fontSize": 11.5, "color": "#5cb85c"}, "encoding": {"text": {"field": "chg"}, "x": {"value": 194}, "y": {"value": 9}}}
  ]},
 {"width": 204, "height": 112, "view": {"fill": "white", "stroke": "#a8a8a8"}, "data": {"name": "eur"},
  "encoding": {"x": {"field": "i", "type": "quantitative", "scale": {"domain": [-0.5, 68.5], "range": [0, 180], "nice": false, "zero": false}, "axis": {"values": [14, 27, 40, 53, 66], "tickCount": 20, "labels": false, "grid": true}}},
  "layer": [
   {"mark": {"type": "rule", "strokeWidth": 0.8}, "encoding": {"y": {"field": "l", "type": "quantitative", "scale": {"domain": [163.45, 175.03], "nice": false, "zero": false}, "axis": {"orient": "right", "offset": -24, "domain": true, "labelOverlap": false, "tickCount": 20, "format": "d", "values": [166, 171], "grid": true}}, "y2": {"field": "h"}, "color": {"condition": {"test": "datum.c >= datum.o", "value": "#e0553c"}, "value": "#3a88cc"}}},
   {"mark": {"type": "bar", "size": 1.8, "strokeWidth": 0.6}, "encoding": {"y": {"field": "o", "type": "quantitative"}, "y2": {"field": "c"}, "fill": {"condition": {"test": "datum.c >= datum.o", "value": "#f4a391"}, "value": "#5a9ed8"}, "stroke": {"condition": {"test": "datum.c >= datum.o", "value": "#e0553c"}, "value": "#3a88cc"}}},
   {"mark": {"type": "line", "color": "#cc77aa", "strokeWidth": 0.8}, "encoding": {"y": {"field": "f", "type": "quantitative"}}},
   {"mark": {"type": "line", "color": "#3cc07a", "strokeWidth": 1.1}, "encoding": {"y": {"field": "m", "type": "quantitative"}}},
   {"data": {"values": [{"t": "日足"}]}, "mark": {"type": "text", "align": "left", "baseline": "top", "font": "Noto Sans CJK JP", "fontSize": 10, "color": "#48b4f0"}, "encoding": {"x": {"value": 2}, "y": {"value": 2}, "text": {"field": "t"}}}
  ]},
 {"width": 204, "height": 15, "view": {"fill": "#f0f0f0", "stroke": "#a8a8a8"}, "data": {"name": "ticks"},
  "mark": {"type": "text", "baseline": "middle", "font": "Liberation Sans", "fontSize": 7.5, "color": "#333333"},
  "encoding": {"x": {"field": "i", "type": "quantitative", "scale": {"domain": [-0.5, 77.7], "nice": false, "zero": false}, "axis": null}, "y": {"value": 8}, "text": {"field": "d"}}}
]},
{"spacing": 0, "bounds": "flush", "resolve": {"scale": {"x": "independent", "y": "independent"}}, "vconcat": [
 {"width": 204, "height": 17, "view": {"fill": "#e0f0f0", "stroke": "#a8a8a8"}, "data": {"values": [{"name": "英ポンド/円", "price": "200.36", "chg": "-0.11"}]},
  "layer": [
   {"mark": {"type": "text", "align": "left", "baseline": "middle", "font": "Noto Sans CJK JP", "fontWeight": "bold", "fontSize": 9.5, "color": "#222222"}, "encoding": {"text": {"field": "name"}, "x": {"value": 3}, "y": {"value": 9}}},
   {"mark": {"type": "text", "align": "right", "baseline": "middle", "font": "Liberation Sans", "fontSize": 11.5, "color": "#333333"}, "encoding": {"text": {"field": "price"}, "x": {"value": 146}, "y": {"value": 9}}},
   {"mark": {"type": "text", "align": "right", "baseline": "middle", "font": "Liberation Sans", "fontSize": 11.5, "color": "#5cb85c"}, "encoding": {"text": {"field": "chg"}, "x": {"value": 194}, "y": {"value": 9}}}
  ]},
 {"width": 204, "height": 112, "view": {"fill": "white", "stroke": "#a8a8a8"}, "data": {"name": "gbp"},
  "encoding": {"x": {"field": "i", "type": "quantitative", "scale": {"domain": [-0.5, 68.5], "range": [0, 180], "nice": false, "zero": false}, "axis": {"values": [14, 27, 40, 53, 66], "tickCount": 20, "labels": false, "grid": true}}},
  "layer": [
   {"mark": {"type": "rule", "strokeWidth": 0.8}, "encoding": {"y": {"field": "l", "type": "quantitative", "scale": {"domain": [193.6, 201.6], "nice": false, "zero": false}, "axis": {"orient": "right", "offset": -24, "domain": true, "labelOverlap": false, "tickCount": 20, "format": "d", "values": [195, 197, 199, 201], "grid": true}}, "y2": {"field": "h"}, "color": {"condition": {"test": "datum.c >= datum.o", "value": "#e0553c"}, "value": "#3a88cc"}}},
   {"mark": {"type": "bar", "size": 1.8, "strokeWidth": 0.6}, "encoding": {"y": {"field": "o", "type": "quantitative"}, "y2": {"field": "c"}, "fill": {"condition": {"test": "datum.c >= datum.o", "value": "#f4a391"}, "value": "#5a9ed8"}, "stroke": {"condition": {"test": "datum.c >= datum.o", "value": "#e0553c"}, "value": "#3a88cc"}}},
   {"mark": {"type": "line", "color": "#cc77aa", "strokeWidth": 0.8}, "encoding": {"y": {"field": "f", "type": "quantitative"}}},
   {"mark": {"type": "line", "color": "#3cc07a", "strokeWidth": 1.1}, "encoding": {"y": {"field": "m", "type": "quantitative"}}},
   {"data": {"values": [{"t": "日足"}]}, "mark": {"type": "text", "align": "left", "baseline": "top", "font": "Noto Sans CJK JP", "fontSize": 10, "color": "#48b4f0"}, "encoding": {"x": {"value": 2}, "y": {"value": 2}, "text": {"field": "t"}}}
  ]},
 {"width": 204, "height": 15, "view": {"fill": "#f0f0f0", "stroke": "#a8a8a8"}, "data": {"name": "ticks"},
  "mark": {"type": "text", "baseline": "middle", "font": "Liberation Sans", "fontSize": 7.5, "color": "#333333"},
  "encoding": {"x": {"field": "i", "type": "quantitative", "scale": {"domain": [-0.5, 77.7], "nice": false, "zero": false}, "axis": null}, "y": {"value": 8}, "text": {"field": "d"}}}
]}
]
},
{
"spacing": 10,
"resolve": {"scale": {"x": "independent", "y": "independent"}},
"hconcat": [
{"spacing": 0, "bounds": "flush", "resolve": {"scale": {"x": "independent", "y": "independent"}}, "vconcat": [
 {"width": 204, "height": 16, "view": {"fill": "#e0f0f0", "stroke": "#a8a8a8"}, "data": {"values": [{"name": "豪ドル/円", "price": "97.73", "chg": "-0.10"}]},
  "layer": [
   {"mark": {"type": "text", "align": "left", "baseline": "middle", "font": "Noto Sans CJK JP", "fontWeight": "bold", "fontSize": 9.5, "color": "#222222"}, "encoding": {"text": {"field": "name"}, "x": {"value": 3}, "y": {"value": 8.5}}},
   {"mark": {"type": "text", "align": "right", "baseline": "middle", "font": "Liberation Sans", "fontSize": 11.5, "color": "#333333"}, "encoding": {"text": {"field": "price"}, "x": {"value": 147}, "y": {"value": 8.5}}},
   {"mark": {"type": "text", "align": "right", "baseline": "middle", "font": "Liberation Sans", "fontSize": 11.5, "color": "#5cb85c"}, "encoding": {"text": {"field": "chg"}, "x": {"value": 194}, "y": {"value": 8.5}}}
  ]},
 {"width": 204, "height": 112, "view": {"fill": "white", "stroke": "#a8a8a8"}, "data": {"name": "aud"},
  "encoding": {"x": {"field": "i", "type": "quantitative", "scale": {"domain": [-0.5, 68.5], "range": [0, 180], "nice": false, "zero": false}, "axis": {"values": [14, 27, 40, 53, 66], "tickCount": 20, "labels": false, "grid": true}}},
  "layer": [
   {"mark": {"type": "rule", "strokeWidth": 0.8}, "encoding": {"y": {"field": "l", "type": "quantitative", "scale": {"domain": [92.94, 98.66], "nice": false, "zero": false}, "axis": {"orient": "right", "offset": -24, "domain": true, "labelOverlap": false, "tickCount": 20, "format": "d", "values": [94, 96, 98], "grid": true}}, "y2": {"field": "h"}, "color": {"condition": {"test": "datum.c >= datum.o", "value": "#e0553c"}, "value": "#3a88cc"}}},
   {"mark": {"type": "bar", "size": 1.8, "strokeWidth": 0.6}, "encoding": {"y": {"field": "o", "type": "quantitative"}, "y2": {"field": "c"}, "fill": {"condition": {"test": "datum.c >= datum.o", "value": "#f4a391"}, "value": "#5a9ed8"}, "stroke": {"condition": {"test": "datum.c >= datum.o", "value": "#e0553c"}, "value": "#3a88cc"}}},
   {"mark": {"type": "line", "color": "#cc77aa", "strokeWidth": 0.8}, "encoding": {"y": {"field": "f", "type": "quantitative"}}},
   {"mark": {"type": "line", "color": "#3cc07a", "strokeWidth": 1.1}, "encoding": {"y": {"field": "m", "type": "quantitative"}}},
   {"data": {"values": [{"t": "日足"}]}, "mark": {"type": "text", "align": "left", "baseline": "top", "font": "Noto Sans CJK JP", "fontSize": 10, "color": "#48b4f0"}, "encoding": {"x": {"value": 2}, "y": {"value": 2}, "text": {"field": "t"}}}
  ]},
 {"width": 204, "height": 14, "view": {"fill": "#f0f0f0", "stroke": "#a8a8a8"}, "data": {"name": "ticks"},
  "mark": {"type": "text", "baseline": "middle", "font": "Liberation Sans", "fontSize": 7.5, "color": "#333333"},
  "encoding": {"x": {"field": "i", "type": "quantitative", "scale": {"domain": [-0.5, 77.7], "nice": false, "zero": false}, "axis": null}, "y": {"value": 7.5}, "text": {"field": "d"}}}
]},
{"spacing": 0, "bounds": "flush", "resolve": {"scale": {"x": "independent", "y": "independent"}}, "vconcat": [
 {"width": 204, "height": 16, "view": {"fill": "#e0f0f0", "stroke": "#a8a8a8"}, "data": {"values": [{"name": "ＮＺドル/円", "price": "87.01", "chg": "-0.03"}]},
  "layer": [
   {"mark": {"type": "text", "align": "left", "baseline": "middle", "font": "Noto Sans CJK JP", "fontWeight": "bold", "fontSize": 9.5, "color": "#222222"}, "encoding": {"text": {"field": "name"}, "x": {"value": 3}, "y": {"value": 8.5}}},
   {"mark": {"type": "text", "align": "right", "baseline": "middle", "font": "Liberation Sans", "fontSize": 11.5, "color": "#333333"}, "encoding": {"text": {"field": "price"}, "x": {"value": 147}, "y": {"value": 8.5}}},
   {"mark": {"type": "text", "align": "right", "baseline": "middle", "font": "Liberation Sans", "fontSize": 11.5, "color": "#5cb85c"}, "encoding": {"text": {"field": "chg"}, "x": {"value": 194}, "y": {"value": 8.5}}}
  ]},
 {"width": 204, "height": 112, "view": {"fill": "white", "stroke": "#a8a8a8"}, "data": {"name": "nzd"},
  "encoding": {"x": {"field": "i", "type": "quantitative", "scale": {"domain": [-0.5, 68.5], "range": [0, 180], "nice": false, "zero": false}, "axis": {"values": [14, 27, 40, 53, 66], "tickCount": 20, "labels": false, "grid": true}}},
  "layer": [
   {"mark": {"type": "rule", "strokeWidth": 0.8}, "encoding": {"y": {"field": "l", "type": "quantitative", "scale": {"domain": [85.3, 89.26], "nice": false, "zero": false}, "axis": {"orient": "right", "offset": -24, "domain": true, "labelOverlap": false, "tickCount": 20, "format": "d", "values": [86, 87, 88], "grid": true}}, "y2": {"field": "h"}, "color": {"condition": {"test": "datum.c >= datum.o", "value": "#e0553c"}, "value": "#3a88cc"}}},
   {"mark": {"type": "bar", "size": 1.8, "strokeWidth": 0.6}, "encoding": {"y": {"field": "o", "type": "quantitative"}, "y2": {"field": "c"}, "fill": {"condition": {"test": "datum.c >= datum.o", "value": "#f4a391"}, "value": "#5a9ed8"}, "stroke": {"condition": {"test": "datum.c >= datum.o", "value": "#e0553c"}, "value": "#3a88cc"}}},
   {"mark": {"type": "line", "color": "#cc77aa", "strokeWidth": 0.8}, "encoding": {"y": {"field": "f", "type": "quantitative"}}},
   {"mark": {"type": "line", "color": "#3cc07a", "strokeWidth": 1.1}, "encoding": {"y": {"field": "m", "type": "quantitative"}}},
   {"data": {"values": [{"t": "日足"}]}, "mark": {"type": "text", "align": "left", "baseline": "top", "font": "Noto Sans CJK JP", "fontSize": 10, "color": "#48b4f0"}, "encoding": {"x": {"value": 2}, "y": {"value": 2}, "text": {"field": "t"}}}
  ]},
 {"width": 204, "height": 14, "view": {"fill": "#f0f0f0", "stroke": "#a8a8a8"}, "data": {"name": "ticks"},
  "mark": {"type": "text", "baseline": "middle", "font": "Liberation Sans", "fontSize": 7.5, "color": "#333333"},
  "encoding": {"x": {"field": "i", "type": "quantitative", "scale": {"domain": [-0.5, 77.7], "nice": false, "zero": false}, "axis": null}, "y": {"value": 7.5}, "text": {"field": "d"}}}
]},
{"spacing": 0, "bounds": "flush", "resolve": {"scale": {"x": "independent", "y": "independent"}}, "vconcat": [
 {"width": 204, "height": 16, "view": {"fill": "#e0f0f0", "stroke": "#a8a8a8"}, "data": {"values": [{"name": "加ドル/円", "price": "107.26", "chg": "+0.04"}]},
  "layer": [
   {"mark": {"type": "text", "align": "left", "baseline": "middle", "font": "Noto Sans CJK JP", "fontWeight": "bold", "fontSize": 9.5, "color": "#222222"}, "encoding": {"text": {"field": "name"}, "x": {"value": 3}, "y": {"value": 8.5}}},
   {"mark": {"type": "text", "align": "right", "baseline": "middle", "font": "Liberation Sans", "fontSize": 11.5, "color": "#333333"}, "encoding": {"text": {"field": "price"}, "x": {"value": 146}, "y": {"value": 8.5}}},
   {"mark": {"type": "text", "align": "right", "baseline": "middle", "font": "Liberation Sans", "fontSize": 11.5, "color": "#f03c3c"}, "encoding": {"text": {"field": "chg"}, "x": {"value": 194}, "y": {"value": 8.5}}}
  ]},
 {"width": 204, "height": 112, "view": {"fill": "white", "stroke": "#a8a8a8"}, "data": {"name": "cad"},
  "encoding": {"x": {"field": "i", "type": "quantitative", "scale": {"domain": [-0.5, 68.5], "range": [0, 180], "nice": false, "zero": false}, "axis": {"values": [14, 27, 40, 53, 66], "tickCount": 20, "labels": false, "grid": true}}},
  "layer": [
   {"mark": {"type": "rule", "strokeWidth": 0.8}, "encoding": {"y": {"field": "l", "type": "quantitative", "scale": {"domain": [104.58, 109.16], "nice": false, "zero": false}, "axis": {"orient": "right", "offset": -24, "domain": true, "labelOverlap": false, "tickCount": 20, "format": "d", "values": [105, 106, 107, 108, 109], "grid": true}}, "y2": {"field": "h"}, "color": {"condition": {"test": "datum.c >= datum.o", "value": "#e0553c"}, "value": "#3a88cc"}}},
   {"mark": {"type": "bar", "size": 1.8, "strokeWidth": 0.6}, "encoding": {"y": {"field": "o", "type": "quantitative"}, "y2": {"field": "c"}, "fill": {"condition": {"test": "datum.c >= datum.o", "value": "#f4a391"}, "value": "#5a9ed8"}, "stroke": {"condition": {"test": "datum.c >= datum.o", "value": "#e0553c"}, "value": "#3a88cc"}}},
   {"mark": {"type": "line", "color": "#cc77aa", "strokeWidth": 0.8}, "encoding": {"y": {"field": "f", "type": "quantitative"}}},
   {"mark": {"type": "line", "color": "#3cc07a", "strokeWidth": 1.1}, "encoding": {"y": {"field": "m", "type": "quantitative"}}},
   {"data": {"values": [{"t": "日足"}]}, "mark": {"type": "text", "align": "left", "baseline": "top", "font": "Noto Sans CJK JP", "fontSize": 10, "color": "#48b4f0"}, "encoding": {"x": {"value": 2}, "y": {"value": 2}, "text": {"field": "t"}}}
  ]},
 {"width": 204, "height": 14, "view": {"fill": "#f0f0f0", "stroke": "#a8a8a8"}, "data": {"name": "ticks"},
  "mark": {"type": "text", "baseline": "middle", "font": "Liberation Sans", "fontSize": 7.5, "color": "#333333"},
  "encoding": {"x": {"field": "i", "type": "quantitative", "scale": {"domain": [-0.5, 77.7], "nice": false, "zero": false}, "axis": null}, "y": {"value": 7.5}, "text": {"field": "d"}}}
]}
]
}
]
},
{
"width": 634, "height": 140,
"data": {"values": [{"t": "callout"}]},
"layer": [
 {"mark": {"type": "point", "shape": "M -125,-53 L 23,-53 L 8,-82 L 93,-53 L 125,-53 Q 140,-53 140,-38 L 140,38 Q 140,53 125,53 L -125,53 Q -140,53 -140,38 L -140,-38 Q -140,-53 -125,-53 Z", "size": 4, "filled": true, "color": "#ff99cc", "fill": "#ff99cc", "opacity": 1, "strokeWidth": 0},
  "encoding": {"x": {"datum": 302, "type": "quantitative", "scale": {"domain": [0, 634], "nice": false, "zero": false}, "axis": null}, "y": {"datum": 82, "type": "quantitative", "scale": {"domain": [140, 0], "nice": false, "zero": false}, "axis": null}}},
 {"mark": {"type": "text", "text": ["レンジ相場が続く中で、", "クロス円では少しずつ円安が", "進む展開となるか"], "align": "center", "baseline": "middle", "lineHeight": 23, "font": "Noto Sans CJK JP", "fontSize": 15.5, "color": "#1a1a1a"},
  "encoding": {"x": {"datum": 302, "type": "quantitative"}, "y": {"datum": 56, "type": "quantitative"}}}
]
}
]
}
